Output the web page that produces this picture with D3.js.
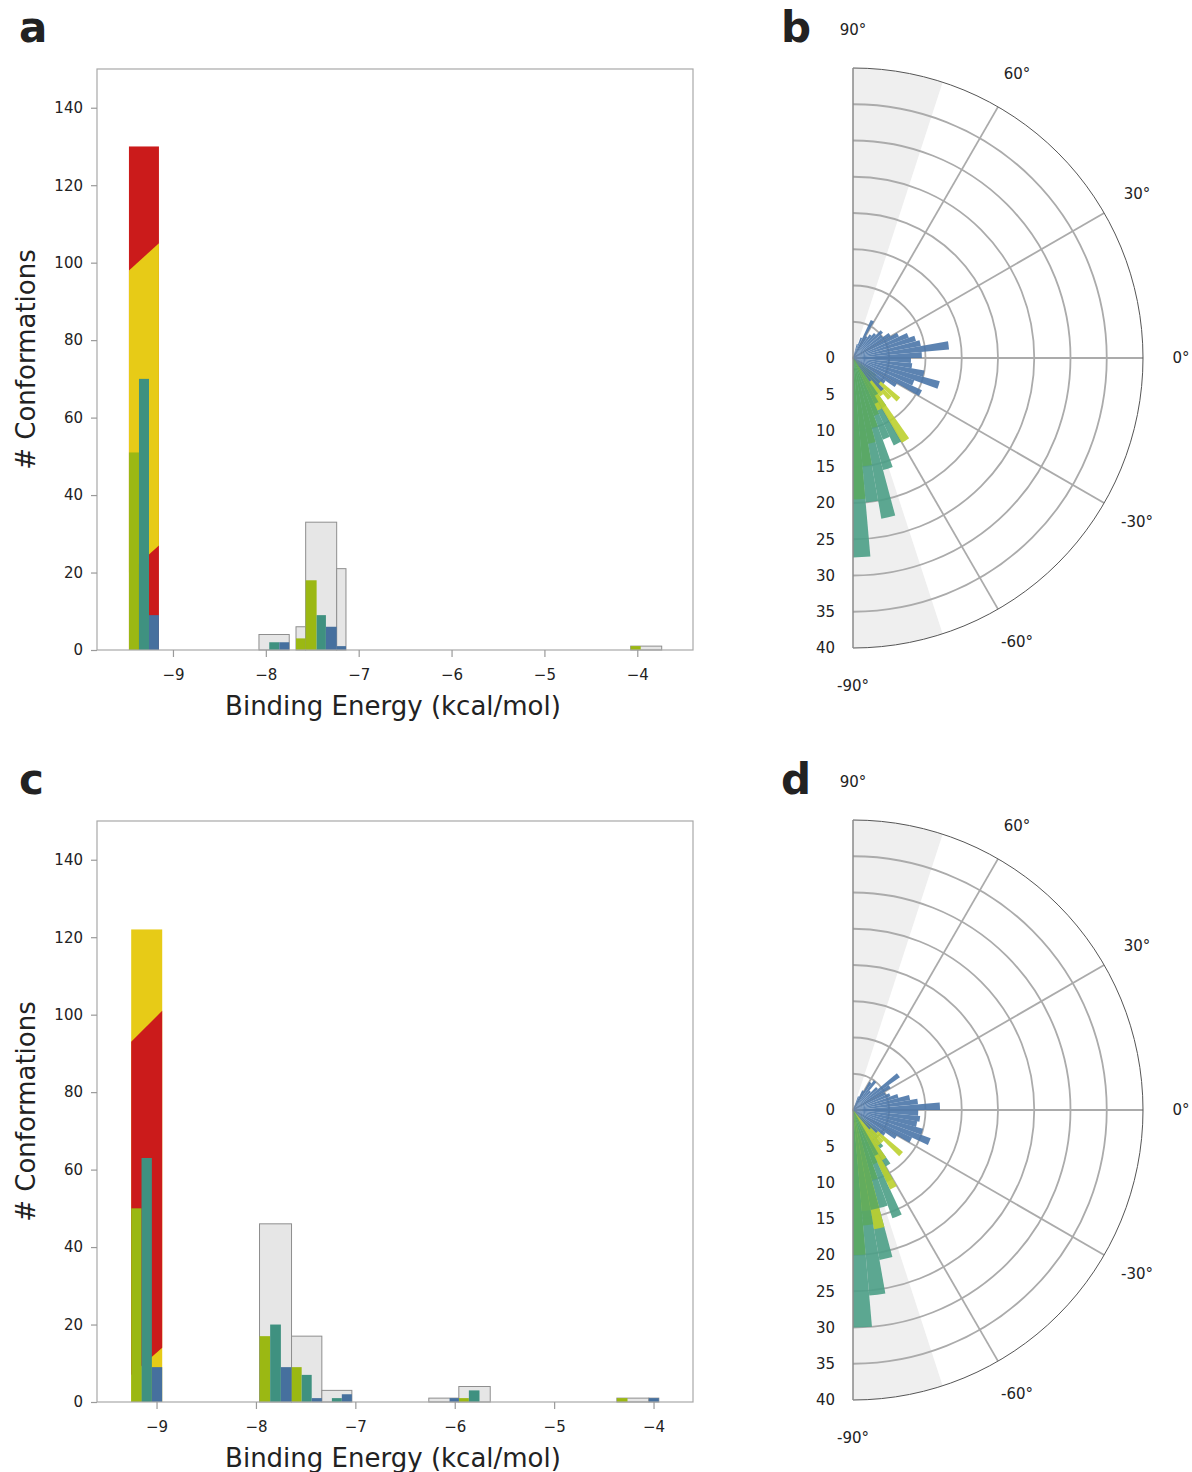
<!DOCTYPE html>
<html>
<head>
<meta charset="utf-8">
<script src="https://cdn.jsdelivr.net/npm/d3@7"></script>
<style>
  body { margin: 0; background: #fff; }
  svg text { font-family: "DejaVu Sans", Verdana, sans-serif; fill: #222; }
</style>
</head>
<body>
<svg id="fig" width="1192" height="1472"></svg>
<script>
// ---------- histogram data (binding energy in kcal/mol, counts) ----------
const energyTicks = [-9, -8, -7, -6, -5, -4];
const countTicks = [0, 20, 40, 60, 80, 100, 120, 140];

// panel a: [x0, x1, count]
const aGrey  = [[-8.074, -7.748, 4], [-7.675, -7.571, 6], [-7.571, -7.237, 33], [-7.237, -7.137, 21], [-4.071, -3.737, 1]];
const aGreen = [[-9.474, -9.366, 51], [-7.675, -7.571, 3], [-7.571, -7.453, 18], [-4.071, -3.963, 1]];
const aTeal  = [[-9.366, -9.258, 70], [-7.963, -7.855, 2], [-7.453, -7.353, 9]];
const aBlue  = [[-9.258, -9.151, 9], [-7.855, -7.748, 2], [-7.353, -7.237, 6], [-7.237, -7.137, 1]];
// leading cluster: outer stack and the slanted inner band (left/right edge values)
const aCluster = { x0: -9.474, x1: -9.151, total: 130, outer: "red", band: "yellow", low: [20, 27], high: [98, 105] };

// panel c
const cGrey  = [[-7.964, -7.642, 46], [-7.642, -7.337, 17], [-7.337, -7.035, 3], [-6.261, -5.959, 1], [-5.959, -5.643, 4], [-4.369, -4.047, 1], [-4.047, -3.947, 1]];
const cGreen = [[-9.255, -9.151, 50], [-7.964, -7.857, 17], [-7.642, -7.540, 9], [-5.959, -5.858, 1], [-4.369, -4.262, 1]];
const cTeal  = [[-9.151, -9.047, 63], [-7.857, -7.749, 20], [-7.540, -7.439, 7], [-7.236, -7.136, 1], [-5.858, -5.751, 3]];
const cBlue  = [[-9.047, -8.943, 9], [-7.749, -7.642, 9], [-7.439, -7.337, 1], [-7.136, -7.035, 2], [-6.052, -5.959, 1], [-4.047, -3.947, 1]];
const cCluster = { x0: -9.255, x1: -8.943, total: 122, outer: "yellow", band: "red", low: [7, 14], high: [93, 101] };

// ---------- polar data: [bin centre angle (deg), radius] ----------
const polarBinWidth = 5;
const radialTicks = [0, 5, 10, 15, 20, 25, 30, 35, 40];
const angleTicks = [90, 60, 30, 0, -30, -60, -90];

const bBlue = [[72.5, 2], [67.5, 3], [62.5, 5.8], [57.5, 3.5], [52.5, 4], [47.5, 4.5], [42.5, 5.4], [37.5, 5],
  [32.5, 6], [27.5, 7], [22.5, 8.2], [17.5, 9], [12.5, 9.5], [7.5, 13.3], [2.5, 9.5], [-2.5, 8], [-7.5, 8.2],
  [-12.5, 10], [-17.5, 12.4], [-22.5, 9], [-27.5, 10.5], [-32.5, 7], [-37.5, 5.5], [-42.5, 5], [-47.5, 6], [-52.5, 4]];
const bTeal = [[-87.5, 27.5], [-82.5, 20], [-77.5, 22.5], [-72.5, 16], [-67.5, 12], [-62.5, 13.3], [-57.5, 8],
  [-52.5, 6], [-47.5, 5], [-42.5, 3.5]];
const bGreen = [[-87.5, 19.5], [-82.5, 15], [-77.5, 12], [-72.5, 10], [-67.5, 8.5], [-62.5, 7], [-57.5, 6]];
const bLime = [[-62.5, 8], [-57.5, 13.5], [-52.5, 6.5], [-47.5, 7.5], [-42.5, 8.5], [-37.5, 4]];

const dBlue = [[67.5, 2], [62.5, 3], [57.5, 4.5], [52.5, 5], [47.5, 3.5], [42.5, 4.5], [37.5, 7.9], [32.5, 6],
  [27.5, 5], [22.5, 5.5], [17.5, 6.5], [12.5, 8], [7.5, 9], [2.5, 12], [-2.5, 9], [-7.5, 9.3], [-12.5, 9],
  [-17.5, 10], [-22.5, 11.4], [-27.5, 9], [-32.5, 7], [-37.5, 5.5], [-42.5, 4.5], [-47.5, 3.5]];
const dTeal = [[-87.5, 30], [-82.5, 25.7], [-77.5, 21], [-72.5, 14], [-67.5, 15.9], [-62.5, 11], [-57.5, 9],
  [-52.5, 6.5], [-47.5, 5]];
const dGreen = [[-87.5, 20], [-82.5, 16], [-77.5, 14], [-72.5, 10], [-67.5, 8], [-62.5, 7]];
const dLime = [[-82.5, 14], [-77.5, 16.7], [-62.5, 12.1], [-57.5, 8], [-52.5, 6], [-47.5, 6], [-42.5, 9]];

// ---------- colours ----------
const histColors = { red: "#cb1b1b", yellow: "#e7cb17", green: "#9bb813", teal: "#3f9180", blue: "#46709e" };
const polarColors = { teal: "#4b9e86", green: "#5aa862", lime: "#bdd02e", blue: "#4a76a8" };

const svg = d3.select("#fig");
svg.append("rect").attr("width", 1192).attr("height", 1472).attr("fill", "#fff");

function drawHistogram(cfg) {
  const g = svg.append("g");
  const x = d3.scaleLinear().domain(cfg.xDomain).range([cfg.left, cfg.right]);
  const y = d3.scaleLinear().domain([0, 150]).range([cfg.bottom, cfg.top]);

  // grey totals
  g.selectAll(".grey").data(cfg.grey).join("rect")
    .attr("x", d => x(d[0])).attr("width", d => x(d[1]) - x(d[0]))
    .attr("y", d => y(d[2])).attr("height", d => y(0) - y(d[2]))
    .attr("fill", "#e6e6e6").attr("stroke", "#8e8e8e").attr("stroke-width", 1);

  // leading cluster with slanted band
  const cl = cfg.cluster;
  g.append("rect")
    .attr("x", x(cl.x0)).attr("width", x(cl.x1) - x(cl.x0))
    .attr("y", y(cl.total)).attr("height", y(0) - y(cl.total))
    .attr("fill", histColors[cl.outer]);
  const band = [[cl.x0, cl.low[0]], [cl.x1, cl.low[1]], [cl.x1, cl.high[1]], [cl.x0, cl.high[0]]];
  g.append("path")
    .attr("d", d3.line().x(d => x(d[0])).y(d => y(d[1]))(band) + "Z")
    .attr("fill", histColors[cl.band]);

  // per-series bars
  [["green", cfg.green], ["teal", cfg.teal], ["blue", cfg.blue]].forEach(([k, arr]) => {
    g.selectAll(".b-" + k).data(arr).join("rect")
      .attr("x", d => x(d[0])).attr("width", d => x(d[1]) - x(d[0]))
      .attr("y", d => y(d[2])).attr("height", d => y(0) - y(d[2]))
      .attr("fill", histColors[k]);
  });

  // frame
  g.append("rect")
    .attr("x", cfg.left).attr("y", cfg.top)
    .attr("width", cfg.right - cfg.left).attr("height", cfg.bottom - cfg.top)
    .attr("fill", "none").attr("stroke", "#a8a8a8").attr("stroke-width", 1.2);

  // axes
  const yAxis = d3.axisLeft(y).tickValues(countTicks).tickSize(6).tickPadding(8).tickFormat(d3.format("d"));
  const ya = g.append("g").attr("transform", `translate(${cfg.left},0)`).call(yAxis);
  const xAxis = d3.axisBottom(x).tickValues(energyTicks).tickSize(7).tickPadding(12).tickFormat(d3.format("d"));
  const xa = g.append("g").attr("transform", `translate(0,${cfg.bottom})`).call(xAxis);
  [ya, xa].forEach(a => {
    a.select(".domain").remove();
    a.selectAll(".tick line").attr("stroke", "#9a9a9a").attr("stroke-width", 1.2);
    a.selectAll(".tick text").attr("font-size", 15).attr("fill", "#222")
      .style("font-family", '"DejaVu Sans", Verdana, sans-serif');
  });

  g.append("text")
    .attr("x", (cfg.left + cfg.right) / 2 - 2).attr("y", cfg.bottom + 65)
    .attr("text-anchor", "middle").attr("font-size", 26)
    .text("Binding Energy (kcal/mol)");
  g.append("text")
    .attr("transform", `translate(35,${(cfg.top + cfg.bottom) / 2}) rotate(-90)`)
    .attr("text-anchor", "middle").attr("font-size", 26)
    .text("# Conformations");
}

function drawPolar(cfg) {
  const cx = cfg.cx, cy = cfg.cy, R = 290;
  const g = svg.append("g").attr("transform", `translate(${cx},${cy})`);
  const r = d3.scaleLinear().domain([0, 40]).range([0, R]);
  const rad = deg => deg * Math.PI / 180;
  // convert mathematical angle (ccw from east) span to d3.arc angles (cw from north)
  const sector = (a0, a1, outer) => d3.arc()({
    innerRadius: 0, outerRadius: outer,
    startAngle: rad(90 - a1), endAngle: rad(90 - a0)
  });

  // shaded polar-cap sectors
  g.append("path").attr("d", sector(72, 90, R)).attr("fill", "#efefef");
  g.append("path").attr("d", sector(-90, -72, R)).attr("fill", "#efefef");

  // grid rings
  radialTicks.filter(v => v > 0 && v < 40).forEach(v => {
    g.append("path")
      .attr("d", `M0,${-r(v)} A${r(v)},${r(v)} 0 0 1 0,${r(v)}`)
      .attr("fill", "none").attr("stroke", "#ababab").attr("stroke-width", 1.8);
  });
  // spokes
  [60, 30, 0, -30, -60].forEach(a => {
    g.append("line").attr("x1", 0).attr("y1", 0)
      .attr("x2", R * Math.cos(rad(a))).attr("y2", -R * Math.sin(rad(a)))
      .attr("stroke", "#ababab").attr("stroke-width", 1.8);
  });

  // bars
  const w = polarBinWidth;
  [["teal", cfg.teal], ["lime", cfg.lime], ["green", cfg.green], ["blue", cfg.blue]].forEach(([k, arr]) => {
    g.selectAll(".p-" + k).data(arr).join("path")
      .attr("d", d => sector(d[0] - w / 2, d[0] + w / 2, r(d[1])))
      .attr("fill", polarColors[k]).attr("fill-opacity", 0.9);
  });

  // outer boundary and diameter
  g.append("path")
    .attr("d", `M0,${-R} A${R},${R} 0 0 1 0,${R}`)
    .attr("fill", "none").attr("stroke", "#555").attr("stroke-width", 1);
  g.append("line").attr("x1", 0).attr("x2", 0).attr("y1", -R).attr("y2", R)
    .attr("stroke", "#8a8a8a").attr("stroke-width", 1.5);

  // radial labels down the -90° axis
  g.selectAll(".rl").data(radialTicks).join("text")
    .attr("x", -18).attr("y", d => r(d)).attr("dy", "0.35em")
    .attr("text-anchor", "end").attr("font-size", 15).text(d => d);

  // angle labels
  const LR = 328;
  g.selectAll(".al").data(angleTicks).join("text")
    .attr("x", d => LR * Math.cos(rad(d)))
    .attr("y", d => -LR * Math.sin(rad(d)))
    .attr("dy", "0.35em").attr("text-anchor", "middle").attr("font-size", 15)
    .text(d => d + "°");
}

drawHistogram({ left: 97, right: 693, top: 69, bottom: 650, xDomain: [-9.818, -3.400],
  grey: aGrey, green: aGreen, teal: aTeal, blue: aBlue, cluster: aCluster });
drawHistogram({ left: 97, right: 693, top: 821, bottom: 1402, xDomain: [-9.599, -3.603],
  grey: cGrey, green: cGreen, teal: cTeal, blue: cBlue, cluster: cCluster });

drawPolar({ cx: 853, cy: 358, teal: bTeal, green: bGreen, lime: bLime, blue: bBlue });
drawPolar({ cx: 853, cy: 1110, teal: dTeal, green: dGreen, lime: dLime, blue: dBlue });

// panel letters
[["a", 19, 42], ["b", 781, 42], ["c", 19, 794], ["d", 781, 794]].forEach(([t, px, py]) => {
  svg.append("text").attr("x", px).attr("y", py).attr("font-size", 42)
    .attr("font-weight", "bold").attr("fill", "#111").text(t);
});
</script>
</body>
</html>
